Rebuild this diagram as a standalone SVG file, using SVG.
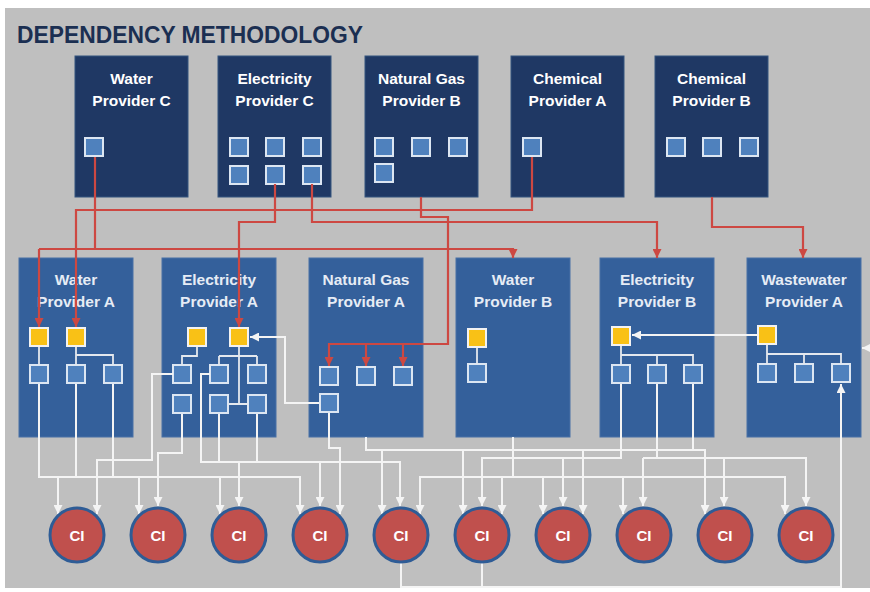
<svg xmlns="http://www.w3.org/2000/svg" width="870" height="592" viewBox="0 0 870 592">
  <style>
    .title { font-family: "Liberation Sans", Arial, sans-serif; font-weight: bold; font-size: 24px; fill: #1b2f52; }
    .lbl { font-family: "Liberation Sans", Arial, sans-serif; font-weight: bold; font-size: 15.5px; fill: #ffffff; text-anchor: middle; }
    .lbl2 { font-family: "Liberation Sans", Arial, sans-serif; font-weight: bold; font-size: 15.5px; fill: #e6ecf5; text-anchor: middle; }
    .ci { font-family: "Liberation Sans", Arial, sans-serif; font-weight: bold; font-size: 15px; fill: #ffffff; text-anchor: middle; }
    .top { fill: #1f3864; stroke: #35557f; stroke-width: 1; }
    .mid { fill: #34609b; stroke: #4870a6; stroke-width: 1; }
    .sq { fill: #4f81bd; stroke: #dce6f2; stroke-width: 2; }
    .ysq { fill: #f9c116; stroke: #f2f2f2; stroke-width: 2; }
    .circ { fill: #c0504d; stroke: #2e5c96; stroke-width: 3; }
    .red { fill: none; stroke: #cd4842; stroke-width: 2.2; }
    .wht { fill: none; stroke: #f4f4f4; stroke-width: 2; }
    .inner { fill: none; stroke: #e4e8ee; stroke-width: 1.8; }
  </style>
  <defs>
    <marker id="ra" viewBox="0 0 10 10" refX="10" refY="5" markerWidth="9" markerHeight="9" orient="auto" markerUnits="userSpaceOnUse">
      <path d="M0,0 L10,5 L0,10 z" fill="#cd4842"/>
    </marker>
    <marker id="wa" viewBox="0 0 10 10" refX="10" refY="5" markerWidth="9" markerHeight="9" orient="auto" markerUnits="userSpaceOnUse">
      <path d="M0,0 L10,5 L0,10 z" fill="#f4f4f4"/>
    </marker>
  </defs>

  <!-- page -->
  <rect x="0" y="0" width="870" height="592" fill="#ffffff"/>
  <rect x="5" y="8" width="865" height="580" fill="#bfbfbf"/>
  <text class="title" x="17" y="43" textLength="346" lengthAdjust="spacingAndGlyphs">DEPENDENCY METHODOLOGY</text>

  <!-- upstream providers -->
  <g id="water-provider-c">
    <rect class="top" x="75" y="56" width="113" height="141"/>
    <text class="lbl" x="131.5" y="84">Water</text>
    <text class="lbl" x="131.5" y="106">Provider C</text>
    <rect class="sq" x="85" y="138" width="18" height="18"/>
  </g>
  <g id="electricity-provider-c">
    <rect class="top" x="218" y="56" width="113" height="141"/>
    <text class="lbl" x="274.5" y="84">Electricity</text>
    <text class="lbl" x="274.5" y="106">Provider C</text>
    <rect class="sq" x="230" y="138" width="18" height="18"/>
    <rect class="sq" x="266" y="138" width="18" height="18"/>
    <rect class="sq" x="303" y="138" width="18" height="18"/>
    <rect class="sq" x="230" y="166" width="18" height="18"/>
    <rect class="sq" x="266" y="166" width="18" height="18"/>
    <rect class="sq" x="303" y="166" width="18" height="18"/>
  </g>
  <g id="natural-gas-provider-b">
    <rect class="top" x="365" y="56" width="113" height="141"/>
    <text class="lbl" x="421.5" y="84">Natural Gas</text>
    <text class="lbl" x="421.5" y="106">Provider B</text>
    <rect class="sq" x="375" y="138" width="18" height="18"/>
    <rect class="sq" x="412" y="138" width="18" height="18"/>
    <rect class="sq" x="449" y="138" width="18" height="18"/>
    <rect class="sq" x="375" y="164" width="18" height="18"/>
  </g>
  <g id="chemical-provider-a">
    <rect class="top" x="511" y="56" width="113" height="141"/>
    <text class="lbl" x="567.5" y="84">Chemical</text>
    <text class="lbl" x="567.5" y="106">Provider A</text>
    <rect class="sq" x="523" y="138" width="18" height="18"/>
  </g>
  <g id="chemical-provider-b">
    <rect class="top" x="655" y="56" width="113" height="141"/>
    <text class="lbl" x="711.5" y="84">Chemical</text>
    <text class="lbl" x="711.5" y="106">Provider B</text>
    <rect class="sq" x="667" y="138" width="18" height="18"/>
    <rect class="sq" x="703" y="138" width="18" height="18"/>
    <rect class="sq" x="740" y="138" width="18" height="18"/>
  </g>

  <!-- local providers -->
  <g id="water-provider-a">
    <rect class="mid" x="19" y="258" width="114" height="179"/>
    <text class="lbl2" x="76" y="285">Water</text>
    <text class="lbl2" x="76" y="307">Provider A</text>
    <rect class="ysq" x="30" y="328" width="18" height="18"/>
    <rect class="ysq" x="67" y="328" width="18" height="18"/>
    <rect class="sq" x="30" y="365" width="18" height="18"/>
    <rect class="sq" x="67" y="365" width="18" height="18"/>
    <rect class="sq" x="104" y="365" width="18" height="18"/>
  </g>
  <g id="electricity-provider-a">
    <rect class="mid" x="162" y="258" width="114" height="179"/>
    <text class="lbl2" x="219" y="285">Electricity</text>
    <text class="lbl2" x="219" y="307">Provider A</text>
    <rect class="ysq" x="188" y="328" width="18" height="18"/>
    <rect class="ysq" x="230" y="328" width="18" height="18"/>
    <rect class="sq" x="173" y="365" width="18" height="18"/>
    <rect class="sq" x="210" y="365" width="18" height="18"/>
    <rect class="sq" x="248" y="365" width="18" height="18"/>
    <rect class="sq" x="173" y="395" width="18" height="18"/>
    <rect class="sq" x="210" y="395" width="18" height="18"/>
    <rect class="sq" x="248" y="395" width="18" height="18"/>
  </g>
  <g id="natural-gas-provider-a">
    <rect class="mid" x="309" y="258" width="114" height="179"/>
    <text class="lbl2" x="366" y="285">Natural Gas</text>
    <text class="lbl2" x="366" y="307">Provider A</text>
    <rect class="sq" x="320" y="367" width="18" height="18"/>
    <rect class="sq" x="357" y="367" width="18" height="18"/>
    <rect class="sq" x="394" y="367" width="18" height="18"/>
    <rect class="sq" x="320" y="394" width="18" height="18"/>
  </g>
  <g id="water-provider-b">
    <rect class="mid" x="456" y="258" width="114" height="179"/>
    <text class="lbl2" x="513" y="285">Water</text>
    <text class="lbl2" x="513" y="307">Provider B</text>
    <rect class="ysq" x="468" y="329" width="18" height="18"/>
    <rect class="sq" x="468" y="364" width="18" height="18"/>
  </g>
  <g id="electricity-provider-b">
    <rect class="mid" x="600" y="258" width="114" height="179"/>
    <text class="lbl2" x="657" y="285">Electricity</text>
    <text class="lbl2" x="657" y="307">Provider B</text>
    <rect class="ysq" x="612" y="327" width="18" height="18"/>
    <rect class="sq" x="612" y="365" width="18" height="18"/>
    <rect class="sq" x="648" y="365" width="18" height="18"/>
    <rect class="sq" x="684" y="365" width="18" height="18"/>
  </g>
  <g id="wastewater-provider-a">
    <rect class="mid" x="747" y="258" width="114" height="179"/>
    <text class="lbl2" x="804" y="285">Wastewater</text>
    <text class="lbl2" x="804" y="307">Provider A</text>
    <rect class="ysq" x="758" y="326" width="18" height="18"/>
    <rect class="sq" x="758" y="364" width="18" height="18"/>
    <rect class="sq" x="795" y="364" width="18" height="18"/>
    <rect class="sq" x="832" y="364" width="18" height="18"/>
  </g>

  <g id="connectors">
    <!-- upstream dependencies (red) -->
    <path class="red" d="M95 157 V249"/>
    <path class="red" d="M39 249 H513 V258" marker-end="url(#ra)"/>
    <path class="red" d="M39 249 V327" marker-end="url(#ra)"/>
    <path class="red" d="M532 157 V210 H76 V327" marker-end="url(#ra)"/>
    <path class="red" d="M421 197 V217 H448 V344 H329 V366" marker-end="url(#ra)"/>
    <path class="red" d="M366 344 V366" marker-end="url(#ra)"/>
    <path class="red" d="M403 344 V366" marker-end="url(#ra)"/>
    <path class="red" d="M275 184 V222 H239 V327" marker-end="url(#ra)"/>
    <path class="red" d="M312 184 V222 H657 V258" marker-end="url(#ra)"/>
    <path class="red" d="M712 197 V227 H803 V258" marker-end="url(#ra)"/>

    <!-- links inside providers -->
    <path class="inner" d="M39 347 V365"/>
    <path class="inner" d="M76 347 V365 M76 355 H113 V365"/>
    <path class="inner" d="M197 347 V356 H182 V365"/>
    <path class="inner" d="M239 347 V404 M229 404 H248 M219 356 H257 M219 356 V365 M257 356 V365"/>
    <path class="inner" d="M477 348 V364"/>
    <path class="inner" d="M621 346 V365 M621 355 H693 V365 M657 355 V365"/>
    <path class="inner" d="M767 345 V364 M767 354 H841 V364 M804 354 V364"/>
    <path class="wht" d="M757 335 H632" marker-end="url(#wa)"/>
    <path class="wht" d="M319 403 H285 V337 H250" marker-end="url(#wa)"/>
    <path class="wht" d="M871 348 H862" marker-end="url(#wa)"/>

    <!-- feeds to critical infrastructure (white) -->
    <path class="wht" d="M39 384 V477 H300 V514" marker-end="url(#wa)"/>
    <path class="wht" d="M76 384 V477 M113 384 V477"/>
    <path class="wht" d="M58 477 V514" marker-end="url(#wa)"/>
    <path class="wht" d="M139 477 V514" marker-end="url(#wa)"/>
    <path class="wht" d="M220 477 V514" marker-end="url(#wa)"/>

    <path class="wht" d="M173 374 H152 V460 H97 V514" marker-end="url(#wa)"/>
    <path class="wht" d="M182 414 V453 H158 V506" marker-end="url(#wa)"/>
    <path class="wht" d="M210 374 H201 V462 H400 V506" marker-end="url(#wa)"/>
    <path class="wht" d="M219 414 V462 M257 414 V462"/>
    <path class="wht" d="M239 462 V506" marker-end="url(#wa)"/>
    <path class="wht" d="M320 462 V506" marker-end="url(#wa)"/>

    <path class="wht" d="M329 413 V448 H340 V514" marker-end="url(#wa)"/>
    <path class="wht" d="M366 437 V450 H705 V514" marker-end="url(#wa)"/>
    <path class="wht" d="M382 450 V514" marker-end="url(#wa)"/>
    <path class="wht" d="M463 450 V514" marker-end="url(#wa)"/>
    <path class="wht" d="M583 450 V514" marker-end="url(#wa)"/>
    <path class="wht" d="M693 384 V450"/>

    <path class="wht" d="M513 437 V477 H420 V514" marker-end="url(#wa)"/>
    <path class="wht" d="M513 477 H785 V514" marker-end="url(#wa)"/>
    <path class="wht" d="M502 477 V514" marker-end="url(#wa)"/>
    <path class="wht" d="M543 477 V514" marker-end="url(#wa)"/>
    <path class="wht" d="M623 477 V514" marker-end="url(#wa)"/>

    <path class="wht" d="M621 384 V458 H482 V506" marker-end="url(#wa)"/>
    <path class="wht" d="M563 458 V506" marker-end="url(#wa)"/>
    <path class="wht" d="M657 384 V458"/>
    <path class="wht" d="M643 458 H806 V506" marker-end="url(#wa)"/>
    <path class="wht" d="M643 458 V506" marker-end="url(#wa)"/>
    <path class="wht" d="M724 458 V506" marker-end="url(#wa)"/>

    <!-- return path to wastewater -->
    <path class="wht" d="M401 563 V587 H841 V384" marker-end="url(#wa)"/>
    <path class="wht" d="M482 563 V587"/>
  </g>

  <!-- critical infrastructure -->
  <g id="ci-1"><circle class="circ" cx="77" cy="535" r="27"/><text class="ci" x="77" y="541">CI</text></g>
  <g id="ci-2"><circle class="circ" cx="158" cy="535" r="27"/><text class="ci" x="158" y="541">CI</text></g>
  <g id="ci-3"><circle class="circ" cx="239" cy="535" r="27"/><text class="ci" x="239" y="541">CI</text></g>
  <g id="ci-4"><circle class="circ" cx="320" cy="535" r="27"/><text class="ci" x="320" y="541">CI</text></g>
  <g id="ci-5"><circle class="circ" cx="401" cy="535" r="27"/><text class="ci" x="401" y="541">CI</text></g>
  <g id="ci-6"><circle class="circ" cx="482" cy="535" r="27"/><text class="ci" x="482" y="541">CI</text></g>
  <g id="ci-7"><circle class="circ" cx="563" cy="535" r="27"/><text class="ci" x="563" y="541">CI</text></g>
  <g id="ci-8"><circle class="circ" cx="644" cy="535" r="27"/><text class="ci" x="644" y="541">CI</text></g>
  <g id="ci-9"><circle class="circ" cx="725" cy="535" r="27"/><text class="ci" x="725" y="541">CI</text></g>
  <g id="ci-10"><circle class="circ" cx="806" cy="535" r="27"/><text class="ci" x="806" y="541">CI</text></g>
</svg>
